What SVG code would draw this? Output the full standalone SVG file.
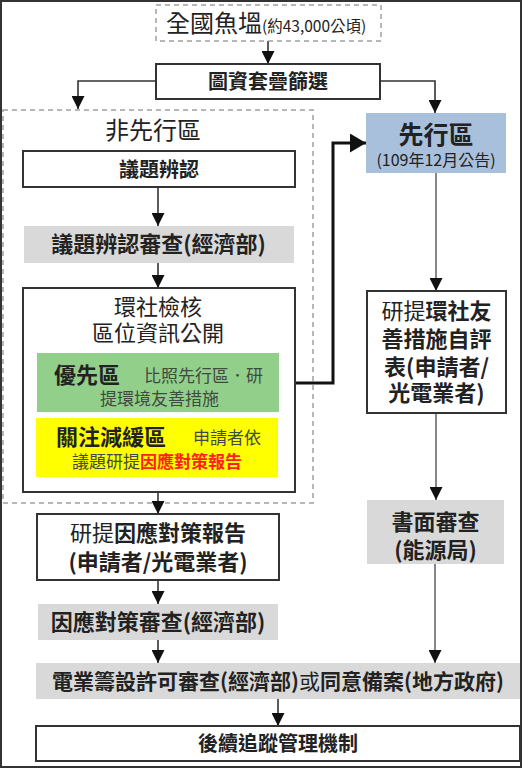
<svg xmlns="http://www.w3.org/2000/svg" width="523" height="769" viewBox="0 0 523 769">
<defs>
<style>
text{font-family:"Noto Sans CJK TC","Noto Sans CJK SC",sans-serif;fill:#222}
.b{font-weight:bold}
.box{fill:#fff;stroke:#333;stroke-width:2}
.gray{fill:#d9d9d9}
.dash{fill:none;stroke:#a0a0a0;stroke-width:1.5;stroke-dasharray:5 4}
.ln{fill:none;stroke:#333;stroke-width:1.6}
.thin{fill:none;stroke:#555;stroke-width:1.4}
.thick{fill:none;stroke:#111;stroke-width:3}
.soft{fill:#404a40}
</style>
<marker id="ar" markerUnits="userSpaceOnUse" markerWidth="13" markerHeight="13" refX="13" refY="6.5" orient="auto">
<path d="M0,0 L13,6.5 L0,13 z" fill="#111"/>
</marker>
<marker id="arb" markerUnits="userSpaceOnUse" markerWidth="16" markerHeight="19" refX="16" refY="9.5" orient="auto">
<path d="M0,0 L16,9.5 L0,19 z" fill="#111"/>
</marker>
</defs>
<rect x="1" y="1" width="520" height="766" fill="#fff" stroke="#333" stroke-width="2"/>

<g id="nonpilot-area">
<rect class="dash" x="3" y="110" width="310" height="393"/>
<text x="153" y="139" font-size="24" text-anchor="middle">非先行區</text>
</g>

<g id="connectors">
<path class="ln" d="M268,41 V64" marker-end="url(#ar)"/>
<path class="ln" d="M156,81 H78 V109" marker-end="url(#ar)"/>
<path class="ln" d="M380,81 H435 V113" marker-end="url(#ar)"/>
<path class="ln" d="M158,187 V226" marker-end="url(#ar)"/>
<path class="ln" d="M158,263 V288" marker-end="url(#ar)"/>
<path class="ln" d="M158,477 V514" marker-end="url(#ar)"/>
<path class="ln" d="M158,580 V604" marker-end="url(#ar)"/>
<path class="ln" d="M158,640 V663" marker-end="url(#ar)"/>
<path class="ln" d="M278,699 V726" marker-end="url(#ar)"/>
<path class="thin" d="M436,173 V291" marker-end="url(#ar)"/>
<path class="thin" d="M436,413 V500" marker-end="url(#ar)"/>
<path class="thin" d="M435,564 V663" marker-end="url(#ar)"/>
<path class="thick" d="M279,383 H333 V143 H366" marker-end="url(#arb)"/>
</g>

<g id="national-fish-farms">
<rect class="dash" x="156" y="5" width="225" height="36"/>
<text x="166" y="32" font-size="24">全國魚塭<tspan font-size="15.5">(約43,000公頃)</tspan></text>
</g>

<g id="overlay-screening">
<rect class="box" x="156" y="64" width="224" height="35"/>
<text class="b" x="268" y="89" font-size="20" text-anchor="middle">圖資套疊篩選</text>
</g>

<g id="issue-identification">
<rect class="box" x="23" y="151" width="272" height="36"/>
<text class="b" x="159" y="177" font-size="20" text-anchor="middle">議題辨認</text>
</g>

<g id="issue-review">
<rect class="gray" x="24" y="226" width="270" height="37"/>
<text class="b" x="158.5" y="252" font-size="22" text-anchor="middle">議題辨認審查(經濟部)</text>
</g>

<g id="env-social-check">
<rect class="box" x="23" y="288" width="272" height="204"/>
<text x="158" y="315" font-size="22" text-anchor="middle">環社檢核</text>
<text x="158" y="341" font-size="22" text-anchor="middle">區位資訊公開</text>
</g>

<g id="priority-area">
<rect x="37" y="353" width="242" height="59" fill="#92cf8b"/>
<text class="b" x="54" y="383" font-size="22">優先區</text>
<text class="soft" x="144" y="382" font-size="17">比照先行區．研</text>
<text class="soft" x="100" y="405" font-size="17">提環境友善措施</text>
</g>

<g id="concern-mitigation-area">
<rect x="36" y="418" width="242" height="59" fill="#ffff00"/>
<text class="b" x="56" y="445" font-size="22">關注減緩區</text>
<text class="soft" x="193" y="444" font-size="17">申請者依</text>
<text x="72" y="468" font-size="17"><tspan class="soft">議題研提</tspan><tspan class="b" fill="#ff2020" style="fill:#ff2020">因應對策報告</tspan></text>
</g>

<g id="pilot-area">
<rect x="366" y="113" width="140" height="60" fill="#a8c0dc"/>
<text class="b" x="436" y="144" font-size="25" text-anchor="middle">先行區</text>
<text x="436" y="166" font-size="16" text-anchor="middle">(109年12月公告)</text>
</g>

<g id="self-assessment">
<rect class="box" x="367" y="291" width="139" height="122"/>
<text x="436.5" y="319" font-size="22" text-anchor="middle">研提<tspan class="b">環社友</tspan></text>
<text class="b" x="436.5" y="347" font-size="22" text-anchor="middle">善措施自評</text>
<text class="b" x="436.5" y="375" font-size="22" text-anchor="middle">表(申請者/</text>
<text class="b" x="436.5" y="401" font-size="22" text-anchor="middle">光電業者)</text>
</g>

<g id="document-review">
<rect class="gray" x="367" y="500" width="137" height="64"/>
<text class="b" x="435.5" y="530" font-size="22" text-anchor="middle">書面審查</text>
<text class="b" x="435.5" y="558" font-size="22" text-anchor="middle">(能源局)</text>
</g>

<g id="countermeasure-report">
<rect class="box" x="37" y="514" width="242" height="66"/>
<text x="158" y="541" font-size="22" text-anchor="middle">研提<tspan class="b">因應對策報告</tspan></text>
<text class="b" x="158" y="570" font-size="22" text-anchor="middle">(申請者/光電業者)</text>
</g>

<g id="countermeasure-review">
<rect class="gray" x="38" y="604" width="240" height="36"/>
<text class="b" x="158" y="630" font-size="22" text-anchor="middle">因應對策審查(經濟部)</text>
</g>

<g id="permit-review">
<rect class="gray" x="36" y="663" width="484" height="36"/>
<text class="b" x="278" y="689" font-size="21" text-anchor="middle">電業籌設許可審查(經濟部)<tspan font-weight="normal">或</tspan>同意備案(地方政府)</text>
</g>

<g id="follow-up">
<rect class="box" x="36" y="726" width="484" height="35"/>
<text class="b" x="278" y="751" font-size="20" text-anchor="middle">後續追蹤管理機制</text>
</g>
</svg>
